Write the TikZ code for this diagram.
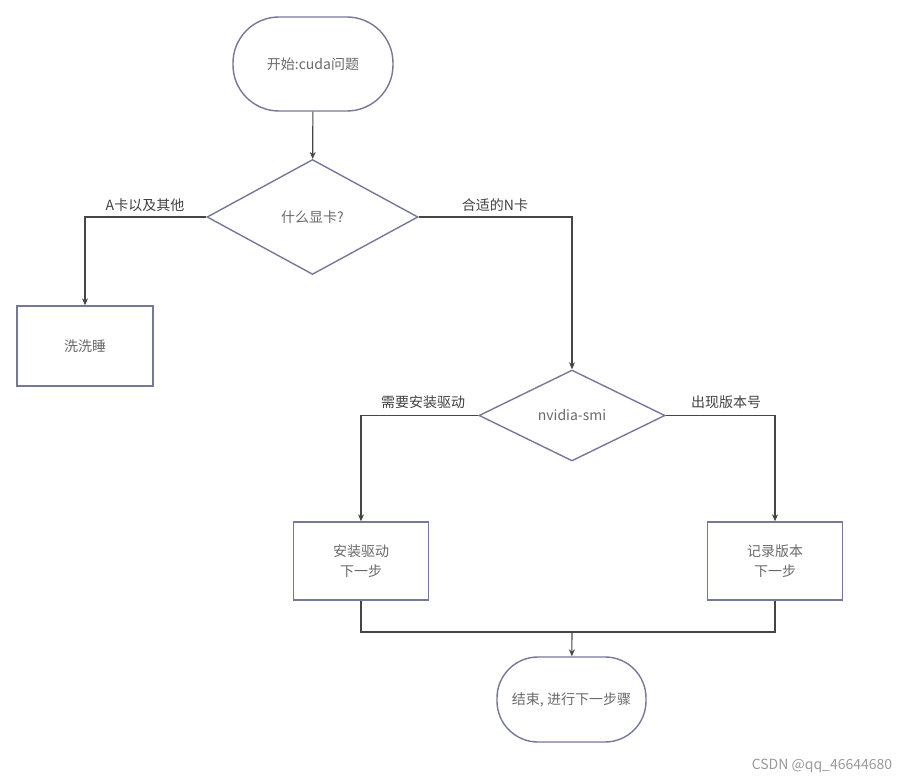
\documentclass[tikz,border=0pt]{standalone}
\usepackage{fontspec}
\setmainfont{Noto Sans CJK SC}
\usetikzlibrary{shapes.geometric,arrows.meta}
\definecolor{shapeLine}{RGB}{118,120,152}
\definecolor{arrowLine}{RGB}{70,70,70}
\definecolor{textGray}{RGB}{105,105,105}
\definecolor{labelGray}{RGB}{65,65,65}

\begin{document}
\begin{tikzpicture}
[x=1pt,y=-1pt,
  termDecorate/.style={draw=shapeLine,line width=1.4pt,inner sep=0pt,text=textGray},%
  decideDecorate/.style={shape=diamond,draw=shapeLine,line width=1.4pt,inner sep=0pt,text=textGray},%
  boxDecorate/.style={draw=shapeLine,line width=1.4pt,minimum width=135pt,minimum height=78pt,inner sep=0pt,align=center,text=textGray},%
  lineDecorate/.style={draw=arrowLine,line width=1.1pt,-{Stealth[length=7pt,width=6pt]}},%
  joinDecorate/.style={draw=arrowLine,line width=1.1pt},%
  labelDecorate/.style={inner sep=0pt,text=labelGray},%
  font=\fontsize{14}{20}\selectfont]
\useasboundingbox (0,0) rectangle (924,783);
%% nodes or vertices
\node (start) at (313,64) [termDecorate,rounded corners=46pt,minimum width=160pt,minimum height=94pt] {开始:cuda问题};
\node (gpu) at (312.5,217) [decideDecorate,minimum width=211pt,minimum height=115pt] {什么显卡?};
\node (sleep) at (85,346) [boxDecorate,minimum width=136pt,minimum height=80pt] {洗洗睡};
\node (smi) at (572,415.5) [decideDecorate,minimum width=186pt,minimum height=91pt] {nvidia-smi};
\node (install) at (361,561) [boxDecorate] {安装驱动\\下一步};
\node (record) at (775,561) [boxDecorate] {记录版本\\下一步};
\node (finish) at (571.5,699.5) [termDecorate,rounded corners=41pt,minimum width=149pt,minimum height=85pt] {结束, 进行下一步骤};
\coordinate (merge) at (572,632);
%% labels on the lines
\node (labelOther) at (145,205) [labelDecorate] {A卡以及其他};
\node (labelNvidia) at (495,205) [labelDecorate] {合适的N卡};
\node (labelDriver) at (423,402) [labelDecorate] {需要安装驱动};
\node (labelVersion) at (726,402) [labelDecorate] {出现版本号};
\node (mark) at (822,766) [inner sep=0pt,text=black!40] {CSDN @qq\_46644680};
%% edges or lines
\draw[lineDecorate] (start) -- (gpu);
\draw[lineDecorate] (gpu.west) -| (sleep);
\draw[lineDecorate] (gpu.east) -| (smi);
\draw[lineDecorate] (smi.west) -| (install);
\draw[lineDecorate] (smi.east) -| (record);
\draw[joinDecorate] (install.south) |- (merge) -| (record.south);
\draw[lineDecorate] (merge) -- (finish);
\end{tikzpicture}
\end{document}
